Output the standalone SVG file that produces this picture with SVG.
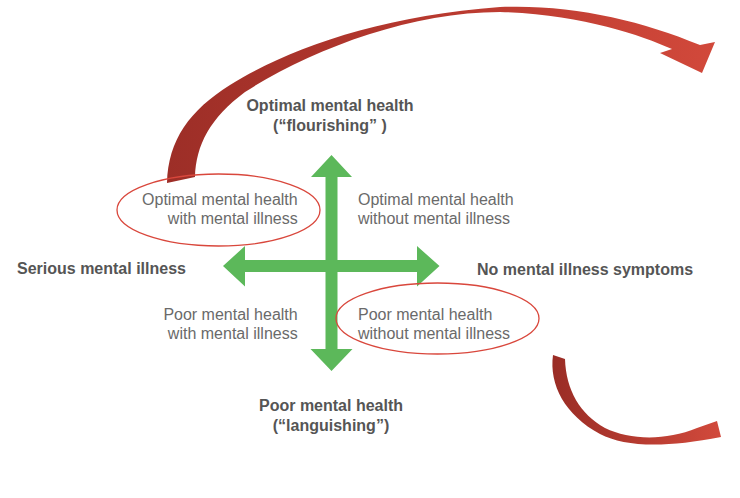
<svg xmlns="http://www.w3.org/2000/svg" width="740" height="498" viewBox="0 0 740 498">
<defs>
<linearGradient id="redA" x1="160" y1="0" x2="720" y2="0" gradientUnits="userSpaceOnUse">
<stop offset="0" stop-color="#9c2e27"/><stop offset="0.5" stop-color="#b8392f"/><stop offset="1" stop-color="#d2493b"/>
</linearGradient>
<linearGradient id="redB" x1="550" y1="0" x2="722" y2="0" gradientUnits="userSpaceOnUse">
<stop offset="0" stop-color="#992c25"/><stop offset="1" stop-color="#d24a3c"/>
</linearGradient>
<style>
.reg{font-family:"Liberation Sans",Arial,sans-serif;font-size:16px;fill:#6a6a6a}
.bold{font-family:"Liberation Sans",Arial,sans-serif;font-size:16px;font-weight:bold;fill:#555555}
.ell{fill:none;stroke:#d9473c;stroke-width:1.3}
.green{fill:#5cb85a}
</style>
</defs>
<rect width="740" height="498" fill="#ffffff"/>
<g id="connectors">
<path id="big-arrow" fill="url(#redA)" d="M167,183 C168,140 190,110 230,85 C290,48 380,16 500,7 C570,4 640,20 700,45 L715,42 L702,73 L660,53 L672,49 C640,35 580,14 500,12 C410,12 310,50 245,92 C210,118 196,145 195,177 Z"/>
<path id="small-arrow" fill="url(#redB)" d="M553,355 C549,385 565,415 600,434 C625,447 665,448 721,437 L717,421 L697,428 C665,441 630,440 605,428 C580,414 566,390 565,359 Z"/>
<path id="axes" class="green" d="M331.5,155 L352,177 L337.5,177 L337.5,260 L417,260 L417,246 L439.5,266 L417,286.5 L417,272 L337.5,272 L337.5,349 L352.5,349 L331.5,371 L310.5,349 L325.5,349 L325.5,272 L245,272 L245,286.5 L223,266 L245,246 L245,260 L325.5,260 L325.5,177 L311,177 Z"/>
</g>
<g id="top-label">
<text class="bold" x="330" y="111" text-anchor="middle">Optimal mental health</text>
<text class="bold" x="330" y="131" text-anchor="middle">(“flourishing” )</text>
</g>
<g id="bottom-label">
<text class="bold" x="331" y="411" text-anchor="middle">Poor mental health</text>
<text class="bold" x="331" y="431" text-anchor="middle">(“languishing”)</text>
</g>
<g id="left-label">
<text class="bold" x="17" y="274">Serious mental illness</text>
</g>
<g id="right-label">
<text class="bold" x="477" y="275">No mental illness symptoms</text>
</g>
<g id="q-top-left">
<ellipse class="ell" cx="218.5" cy="210" rx="101.5" ry="36"/>
<text class="reg" x="297.7" y="205" text-anchor="end">Optimal mental health</text>
<text class="reg" x="297.7" y="224" text-anchor="end">with mental illness</text>
</g>
<g id="q-top-right">
<text class="reg" x="358" y="205">Optimal mental health</text>
<text class="reg" x="358" y="224">without mental illness</text>
</g>
<g id="q-bottom-left">
<text class="reg" x="297.7" y="320" text-anchor="end">Poor mental health</text>
<text class="reg" x="297.7" y="339" text-anchor="end">with mental illness</text>
</g>
<g id="q-bottom-right">
<ellipse class="ell" cx="437.5" cy="318.5" rx="101.5" ry="35.5"/>
<text class="reg" x="358" y="320">Poor mental health</text>
<text class="reg" x="358" y="339">without mental illness</text>
</g>
</svg>
